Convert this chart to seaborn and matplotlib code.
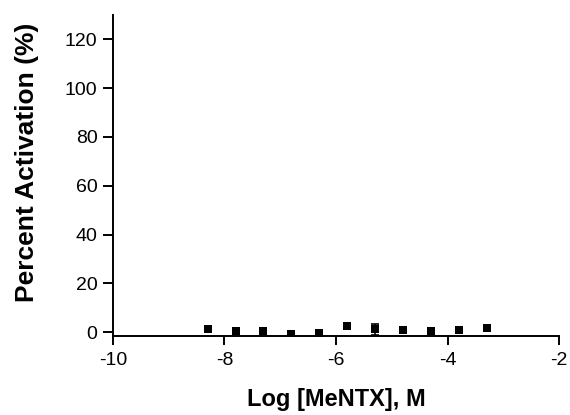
import matplotlib
matplotlib.use('Agg')
import matplotlib.pyplot as plt
import seaborn as sns
import pandas as pd

# data
log_conc = [-8.3, -7.8, -7.3, -6.8, -6.3, -5.8, -5.3, -4.8, -4.3, -3.8, -3.3]
activation = [1.5, 0.5, 0.5, -0.8, -0.4, 2.4, 1.2, 1.1, 0.5, 0.8, 1.9]
sem = [0.6, 0.5, 0.5, 0.6, 0.5, 0.7, 2.3, 0.6, 0.5, 0.6, 0.7]
x_ticks = [-10, -8, -6, -4, -2]
y_ticks = [0, 20, 40, 60, 80, 100, 120]

df = pd.DataFrame({'logc': log_conc, 'act': activation, 'sem': sem})

sns.set_style('ticks')
plt.rcParams['font.family'] = ['Liberation Sans', 'DejaVu Sans']
plt.rcParams['text.color'] = 'black'
plt.rcParams['axes.labelcolor'] = 'black'

fig = plt.figure(figsize=(5.7, 4.15), dpi=100)
ax = fig.add_axes([0.198, 0.190, 0.783, 0.774])

ax.errorbar(df['logc'], df['act'], yerr=df['sem'], fmt='none',
            ecolor='black', elinewidth=1.2, capsize=3, capthick=1.2, zorder=2)
sns.scatterplot(data=df, x='logc', y='act', marker='s', color='black',
                s=40, edgecolor='black', linewidth=0, ax=ax, zorder=3)

ax.set_xlim(-10, -2)
ax.set_ylim(-1.6, 130)
ax.set_xticks(x_ticks)
ax.set_yticks(y_ticks)
ax.set_xticklabels([str(t) for t in x_ticks])
ax.set_yticklabels([str(t) for t in y_ticks])

sns.despine(ax=ax)
for side in ['left', 'bottom']:
    ax.spines[side].set_linewidth(1.4)
    ax.spines[side].set_color('black')
ax.tick_params(axis='y', direction='out', length=7, width=1.4,
               labelsize=14, colors='black', pad=4)
ax.tick_params(axis='x', direction='out', length=6.5, width=1.4,
               labelsize=14, colors='black', pad=5)

ax.set_xlabel('Log [MeNTX], M', fontsize=17, fontweight='bold')
ax.set_ylabel('Percent Activation (%)', fontsize=19, fontweight='bold')
ax.xaxis.set_label_coords(0.5, -0.16)
ax.yaxis.set_label_coords(-0.165, 0.54)

fig.savefig('out.png', dpi=100)
plt.close(fig)
